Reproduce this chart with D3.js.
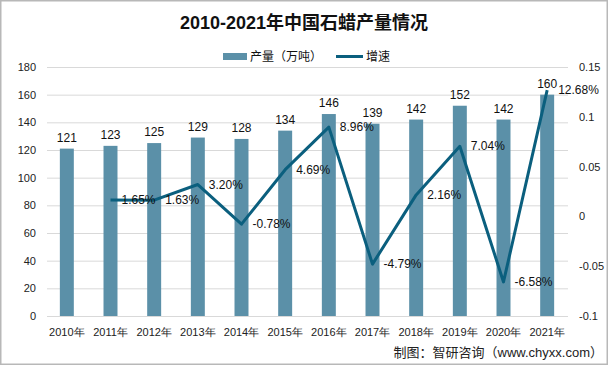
<!DOCTYPE html>
<html><head><meta charset="utf-8">
<script src="https://cdn.jsdelivr.net/npm/d3@7"></script>
<style>
body{margin:0;padding:0;background:#fff;}
svg{display:block;font-family:"Liberation Sans","Noto Sans CJK SC",sans-serif;}
</style></head>
<body><svg id="c" width="608" height="366"></svg>
<script>
const years = ["2010年","2011年","2012年","2013年","2014年","2015年","2016年","2017年","2018年","2019年","2020年","2021年"];
const output = [121,123,125,129,128,134,146,139,142,152,142,160];
const growth = [null,0.0165,0.0163,0.0320,-0.0078,0.0469,0.0896,-0.0479,0.0216,0.0704,-0.0658,0.1268];
const growthLabels = [null,"1.65%","1.63%","3.20%","-0.78%","4.69%","8.96%","-4.79%","2.16%","7.04%","-6.58%","12.68%"];
const leftTicks = [0,20,40,60,80,100,120,140,160,180];
const rightTicks = [-0.1,-0.05,0,0.05,0.1,0.15];
const rightTickLabels = ["-0.1","-0.05","0","0.05","0.1","0.15"];
const title = "2010-2021年中国石蜡产量情况";
const legendNames = ["产量（万吨）","增速"];
const source = "制图：智研咨询（www.chyxx.com）";

const barColor = "#5b90a8", lineColor = "#0b5f7e";
const svg = d3.select("#c");
svg.append("rect").attr("x",0.75).attr("y",0.75).attr("width",606.5).attr("height",363.5)
  .attr("fill","#fff").attr("stroke","#b8b8b8").attr("stroke-width",1.5);

const x = d3.scaleBand().domain(years).range([45,569]).paddingInner(0.68).paddingOuter(0.34);
const yL = d3.scaleLinear().domain([0,180]).range([316,67]);
const yR = d3.scaleLinear().domain([-0.1,0.15]).range([316,67]);

// gridlines
svg.append("g").selectAll("line").data(leftTicks).join("line")
  .attr("x1",47).attr("x2",568).attr("y1",d=>yL(d)+0.5).attr("y2",d=>yL(d)+0.5)
  .attr("stroke","#d9d9d9").attr("stroke-width",1);

// left axis
const la = svg.append("g").attr("transform","translate(40,0)")
  .call(d3.axisLeft(yL).tickValues(leftTicks).tickSize(0).tickPadding(4));
la.select(".domain").remove();
la.selectAll("text").attr("font-size",11).attr("fill","#222").attr("font-family","inherit");

// right axis
const ra = svg.append("g").attr("transform","translate(576,0)")
  .call(d3.axisRight(yR).tickValues(rightTicks).tickFormat((d,i)=>rightTickLabels[i]).tickSize(0).tickPadding(3));
ra.select(".domain").remove();
ra.selectAll("text").attr("font-size",11).attr("fill","#222").attr("font-family","inherit");

// x axis
const xa = svg.append("g").attr("transform","translate(0,324)")
  .call(d3.axisBottom(x).tickSize(0).tickPadding(4));
xa.select(".domain").remove();
xa.selectAll("text").attr("font-size",11).attr("fill","#222").attr("font-family","inherit");

// bars
svg.append("g").selectAll("rect").data(output).join("rect")
  .attr("x",(d,i)=>x(years[i])).attr("width",x.bandwidth())
  .attr("y",d=>yL(d)).attr("height",d=>yL(0)-yL(d)).attr("fill",barColor);
svg.append("g").selectAll("text").data(output).join("text")
  .attr("x",(d,i)=>x(years[i])+x.bandwidth()/2).attr("y",d=>yL(d)-7)
  .attr("text-anchor","middle").attr("font-size",12).attr("fill","#111").text(d=>d);

// line
const pts = growth.map((g,i)=>({g,i})).filter(d=>d.g!==null);
const cx = i => x(years[i])+x.bandwidth()/2;
svg.append("path").datum(pts)
  .attr("d",d3.line().x(d=>cx(d.i)).y(d=>yR(d.g)))
  .attr("fill","none").attr("stroke",lineColor).attr("stroke-width",3).attr("stroke-linejoin","round");
svg.append("g").selectAll("text").data(pts).join("text")
  .attr("x",d=>cx(d.i)+11).attr("y",d=>yR(d.g)+4)
  .attr("font-size",12).attr("fill","#111").text(d=>growthLabels[d.i]);

// title
svg.append("text").attr("x",304).attr("y",29).attr("text-anchor","middle")
  .attr("font-size",18).attr("font-weight","bold").attr("fill","#111").text(title);

// legend
svg.append("rect").attr("x",223).attr("y",53).attr("width",24).attr("height",7).attr("fill",barColor);
svg.append("text").attr("x",250).attr("y",61).attr("font-size",12).attr("fill","#111").text(legendNames[0]);
svg.append("line").attr("x1",336).attr("x2",363).attr("y1",56.5).attr("y2",56.5).attr("stroke",lineColor).attr("stroke-width",3);
svg.append("text").attr("x",366).attr("y",61).attr("font-size",12).attr("fill","#111").text(legendNames[1]);

// source
svg.append("text").attr("x",603).attr("y",357).attr("text-anchor","end")
  .attr("font-size",13).attr("fill","#222").text(source);
</script></body></html>
